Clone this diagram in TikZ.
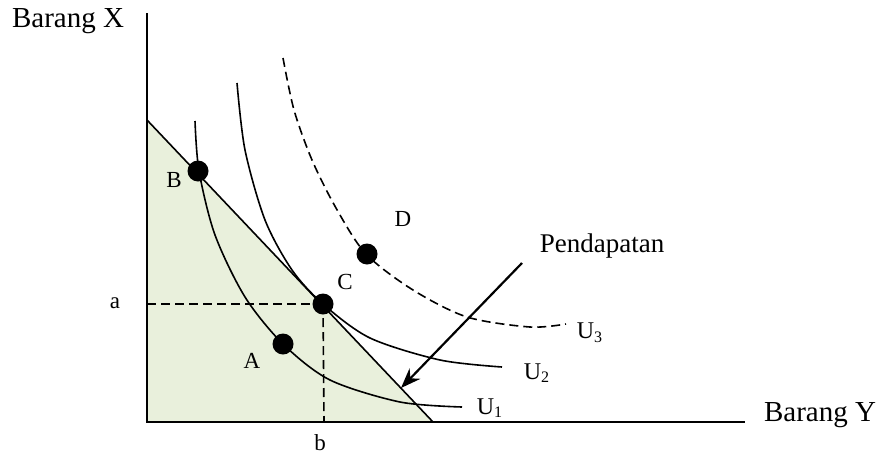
\documentclass[tikz,border=0pt]{standalone}
\usepackage{fontspec}
\setmainfont{Liberation Serif}
\usetikzlibrary{arrows.meta}
\definecolor{budgetfill}{RGB}{233,240,220}
\tikzset{
  axis/.style={line width=1pt},
  curve/.style={line width=0.8pt},
  guide/.style={line width=0.8pt,dash pattern=on 4.5pt off 2.5pt},
  dot/.style={circle,fill=black,inner sep=0pt,minimum size=10.5pt},
  lbl/.style={font=\fontsize{11.5}{13}\selectfont},
  ulbl/.style={font=\fontsize{12}{14}\selectfont},
  axlbl/.style={font=\fontsize{14.5}{17}\selectfont}
}
\begin{document}
\begin{tikzpicture}[x=0.5pt,y=-0.5pt]
\useasboundingbox (0,0) rectangle (881,455);
\coordinate (o) at (147,422);
\coordinate (ytop) at (147,13);
\coordinate (xend) at (745,422);
\coordinate (m0) at (147,120);
\coordinate (m1) at (433,422);
\fill[budgetfill] (m0) -- (o) -- (m1) -- cycle;
\draw[axis] (ytop) -- (o) -- (xend);
\draw[curve] (m0) -- (m1);
\draw[curve] plot[smooth] coordinates {(195,121) (199,171) (215,235) (245,297) (283,344) (330,380) (400,402) (462,407)};
\draw[curve] plot[smooth] coordinates {(237,83) (245,150) (265,220) (292,270) (323,304) (370,338) (440,360) (502,367)};
\draw[guide] plot[smooth] coordinates {(283,58) (294,110) (312,160) (336,208) (366,254) (413,290) (467,317) (530,327) (566,324)};
\node[dot] (B) at (198,171) {};
\node[dot] (A) at (283,344) {};
\node[dot] (C) at (323,304) {};
\node[dot] (D) at (367,254) {};
\coordinate (a0) at (147,304);
\coordinate (b0) at (324,422);
\draw[guide] (a0) -- (C.center);
\draw[guide] (C.center) -- (b0);
\coordinate (p0) at (522,263);
\coordinate (p1) at (401,388);
\draw[line width=1.1pt,-{Stealth[length=10pt,width=7.5pt]}] (p0) -- (p1);
\node[axlbl] (bx) at (68,21) {Barang X};
\node[axlbl] (by) at (820,415) {Barang Y};
\node[lbl] (la) at (115,303) {a};
\node[lbl] (lb) at (320,443) {b};
\node[lbl] (lB) at (174,180) {B};
\node[lbl] (lA) at (252,361) {A};
\node[lbl] (lC) at (345,282) {C};
\node[lbl] (lD) at (403,219) {D};
\node[font=\fontsize{13.5}{16}\selectfont] (pd) at (602,246) {Pendapatan};
\node[ulbl] (u3) at (590,333) {U\textsubscript{3}};
\node[ulbl] (u2) at (537,373) {U\textsubscript{2}};
\node[ulbl] (u1) at (490,408) {U\textsubscript{1}};
\end{tikzpicture}
\end{document}
